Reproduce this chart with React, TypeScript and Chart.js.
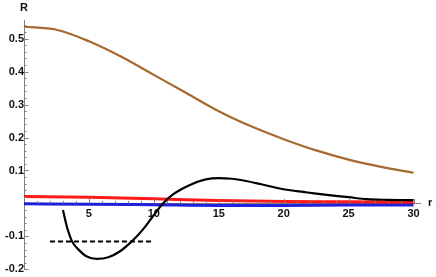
import React, { useEffect, useRef } from "react";
import { Chart, registerables } from "chart.js";

Chart.register(...registerables);

const brownR = [0, 2.5, 5, 7.5, 10, 12.5, 15, 17.5, 20, 22.5, 25, 27.5, 30];
const brownV = [0.536, 0.527, 0.492, 0.445, 0.39, 0.335, 0.28, 0.234, 0.195, 0.161, 0.133, 0.111, 0.093];

const redR = [0, 5, 10, 15, 20, 25, 30];
const redV = [0.021, 0.019, 0.014, 0.009, 0.006, 0.005, 0.004];

const blueR = [0, 5, 10, 15, 20, 25, 30];
const blueV = [-0.001, -0.002, -0.004, -0.006, -0.006, -0.005, -0.005];

const blackR = [3.0, 3.3, 3.7, 4.2, 4.8, 5.6, 6.5, 7.4, 8.3, 9.2, 10.0, 10.7, 11.5, 12.3, 13.0, 14.0, 15.0, 16.0, 17.0, 18.2, 19.5, 20.5, 21.5, 22.5, 24.0, 25.0, 26.4, 28.0, 30.0];
const blackV = [-0.02, -0.07, -0.115, -0.14, -0.16, -0.168, -0.163, -0.145, -0.115, -0.077, -0.035, 0, 0.028, 0.047, 0.06, 0.073, 0.077, 0.075, 0.069, 0.059, 0.047, 0.04, 0.035, 0.03, 0.023, 0.019, 0.013, 0.011, 0.01];

const dashR = [2.0, 9.85];
const dashV = [-0.115, -0.115];

const xTickLabels = [5, 10, 15, 20, 25, 30];
const yTickLabels = [-0.2, -0.1, 0.1, 0.2, 0.3, 0.4, 0.5];

const pts = (xs: number[], ys: number[]) => xs.map((x, i) => ({ x, y: ys[i] }));

const tickPlugin = {
  id: "mmaTicks",
  afterDraw(chart: any) {
    const ctx = chart.ctx;
    const xs = chart.scales.x;
    const ys = chart.scales.y;
    const y0 = ys.getPixelForValue(0);
    const x0 = xs.getPixelForValue(0);
    ctx.save();
    ctx.strokeStyle = "#808080";
    ctx.lineWidth = 1;
    for (let i = 1; i <= 30; i++) {
      const px = Math.round(xs.getPixelForValue(i)) + 0.5;
      const len = i % 5 === 0 ? 4.5 : 2.5;
      ctx.beginPath();
      ctx.moveTo(px, y0);
      ctx.lineTo(px, y0 - len);
      ctx.stroke();
    }
    for (let k = -10; k <= 27; k++) {
      if (k === 0) continue;
      const v = k * 0.02;
      const py = Math.round(ys.getPixelForValue(v)) + 0.5;
      const len = k % 5 === 0 ? 4.5 : 2.5;
      ctx.beginPath();
      ctx.moveTo(x0, py);
      ctx.lineTo(x0 + len, py);
      ctx.stroke();
    }
    ctx.fillStyle = "#111";
    ctx.font = "bold 11px 'Liberation Sans', Arial, sans-serif";
    ctx.textAlign = "center";
    ctx.textBaseline = "middle";
    ctx.fillText("R", x0, chart.chartArea.top - 13);
    ctx.textAlign = "left";
    ctx.fillText("r", chart.chartArea.right + 8, y0);
    ctx.restore();
  },
};

export default function App() {
  const ref = useRef<HTMLCanvasElement | null>(null);
  useEffect(() => {
    if (!ref.current) return;
    const tickFont = { family: "'Liberation Sans', Arial, sans-serif", size: 11, weight: "bold" as const };
    const chart = new Chart(ref.current, {
      type: "scatter",
      data: {
        datasets: [
          { data: pts(blackR, blackV), borderColor: "#000000", borderWidth: 2.2, showLine: true, pointRadius: 0, cubicInterpolationMode: "monotone" },
          { data: pts(dashR, dashV), borderColor: "#000000", borderWidth: 2, borderDash: [5, 3], showLine: true, pointRadius: 0 },
          { data: pts(brownR, brownV), borderColor: "rgb(166,106,48)", borderWidth: 2.2, showLine: true, pointRadius: 0, cubicInterpolationMode: "monotone" },
          { data: pts(redR, redV), borderColor: "rgba(255,0,0,0.9)", borderWidth: 3, showLine: true, pointRadius: 0, cubicInterpolationMode: "monotone" },
          { data: pts(blueR, blueV), borderColor: "rgba(20,20,220,0.95)", borderWidth: 3, showLine: true, pointRadius: 0, cubicInterpolationMode: "monotone" },
        ] as any,
      },
      options: {
        animation: false,
        responsive: true,
        maintainAspectRatio: false,
        layout: { padding: { left: 24, right: 16, top: 20.5, bottom: 2 } },
        plugins: { legend: { display: false }, tooltip: { enabled: false } },
        scales: {
          x: {
            type: "linear",
            position: { y: 0 } as any,
            min: 0,
            max: 30.5,
            grid: { display: true, drawOnChartArea: false, drawTicks: false },
            border: { display: true, color: "#808080", width: 1 },
            ticks: {
              stepSize: 5,
              includeBounds: false,
              autoSkip: false,
              maxRotation: 0,
              padding: 4,
              color: "#111",
              font: tickFont,
              callback: (v: any) => (xTickLabels.includes(Math.round(Number(v) * 100) / 100) ? String(v) : ""),
            },
          },
          y: {
            type: "linear",
            position: { x: 0 } as any,
            min: -0.2,
            max: 0.555,
            grid: { display: true, drawOnChartArea: false, drawTicks: false },
            border: { display: true, color: "#808080", width: 1 },
            ticks: {
              stepSize: 0.1,
              includeBounds: false,
              autoSkip: false,
              padding: 5,
              color: "#111",
              font: tickFont,
              callback: (v: any) => {
                const r = Math.round(Number(v) * 10) / 10;
                if (Math.abs(Number(v) - r) > 1e-6) return "";
                return yTickLabels.includes(r) ? r.toFixed(1) : "";
              },
            },
          },
        },
      },
      plugins: [tickPlugin],
    });
    return () => chart.destroy();
  }, []);
  return (
    <div style={{ position: "absolute", left: 0, top: 0, width: 436, height: 277, overflow: "hidden" }}>
      <div style={{ position: "relative", width: 436, height: 281 }}>
        <canvas ref={ref} />
      </div>
    </div>
  );
}
